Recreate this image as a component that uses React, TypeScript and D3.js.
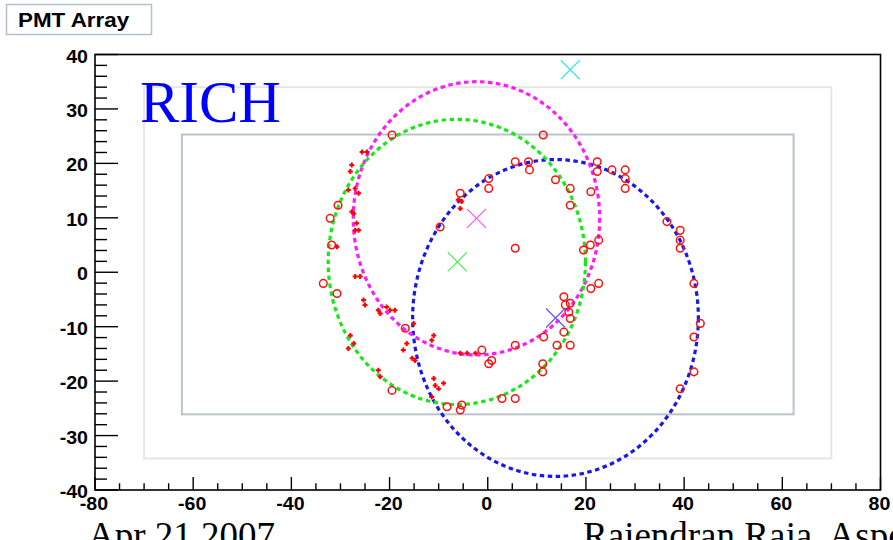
import React from "react";
import * as d3 from "d3";

// ---- data (detector units) ----
const xTickLabels = [-80, -60, -40, -20, 0, 20, 40, 60, 80];
const yTickLabels = [-40, -30, -20, -10, 0, 10, 20, 30, 40];

const ringNames = ["blue", "magenta", "green"];
const ringCX = [13.8, -2.3, -6.3];
const ringCY = [-8.4, 9.9, 1.9];
const ringR = [29.1, 25.1, 26.2];

const crossNames = ["cyan", "magenta", "green", "blue"];
const crossX = [16.8, -2.3, -6.2, 13.8];
const crossY = [37.2, 9.9, 1.9, -8.4];

const openHits: [number, number][] = [
  [-19.5, 25.2], [-30.5, 12.3], [-32.1, 9.9], [-31.8, 5.0], [-5.6, 14.5], [-9.7, 8.3],
  [0.2, 17.2], [0.2, 15.4], [11.3, 25.2], [5.6, 20.3], [8.3, 20.3], [8.5, 18.8],
  [13.8, 17.0], [16.8, 15.4], [16.8, 12.3], [22.3, 20.3], [22.3, 18.5], [25.3, 18.8],
  [28.0, 18.8], [28.0, 17.2], [28.0, 15.4], [21.0, 14.8], [5.6, 4.4], [20.9, 5.0],
  [22.6, 5.9], [19.5, 4.1], [36.5, 9.3], [39.2, 7.7], [39.2, 5.9], [39.2, 4.4],
  [-33.5, -2.05], [-30.7, -3.9], [-16.8, -10.3], [-1.2, -14.3], [0.8, -16.2], [0.2, -16.8],
  [-19.5, -21.7], [-8.3, -24.7], [-5.3, -24.4], [-5.6, -25.3], [22.6, -2.05], [21.0, -3.0],
  [15.5, -4.5], [15.8, -6.0], [16.8, -5.7], [16.5, -7.3], [16.8, -8.5], [15.5, -11.0],
  [16.8, -13.4], [14.1, -13.4], [11.4, -11.9], [5.6, -13.4], [11.2, -16.8], [11.2, -18.3],
  [5.6, -23.2], [2.9, -23.2], [42.0, -2.05], [43.3, -9.4], [42.0, -11.9], [42.0, -18.3],
  [39.2, -21.4],
];

const smallHits: [number, number][] = [
  [-25.6, 22.1], [-24.6, 22.1], [-27.7, 19.7], [-28.0, 18.5], [-28.4, 15.1], [-27.0, 15.4],
  [-26.3, 14.5], [-27.7, 11.1], [-27.3, 10.8], [-26.7, 9.0], [-26.3, 7.7], [-27.0, 7.7],
  [-30.7, 4.7], [-27.0, -0.8], [-26.0, -0.8], [-6.0, 13.3], [-5.3, 13.0], [-5.6, 11.7],
  [-25.3, -5.1], [-25.0, -6.0], [-22.3, -7.0], [-20.6, -6.4], [-19.9, -7.0], [-21.9, -7.6],
  [-18.9, -7.0], [-15.1, -9.4], [-28.0, -11.6], [-27.3, -13.1], [-28.4, -14.0], [-16.5, -13.1],
  [-17.2, -14.3], [-15.4, -15.8], [-14.8, -16.2], [-11.0, -11.6], [-11.4, -12.5], [-5.6, -14.9],
  [-4.2, -14.9], [-2.5, -14.9], [-22.3, -18.0], [-21.9, -19.2], [-11.0, -19.5], [-10.7, -20.8],
  [-9.0, -20.4], [-10.0, -21.4], [-11.4, -22.9],
];

const outerBox = [-70, 70, -34.2, 34];
const innerBox = [-62.3, 62.3, -26.1, 25.3];

const ringColors: Record<string, string> = {
  blue: "#1818e8",
  magenta: "#ff1aff",
  green: "#18e818",
};
const crossColors: Record<string, string> = {
  cyan: "#33e8f0",
  magenta: "#ff55ff",
  green: "#55e855",
  blue: "#5a5aff",
};

const W = 893;
const H = 540;
const L = 95, R = 880.5, T = 54.5, B = 490;

export default function App() {
  const x = d3.scaleLinear().domain([-80, 80]).range([L, R]);
  const y = d3.scaleLinear().domain([-40, 40]).range([B, T]);

  const yMinor = d3.range(-40, 40.01, 2);
  const yMajor = d3.range(-40, 40.01, 10);
  const xMinor = d3.range(-80, 80.01, 5);
  const xMajor = d3.range(-80, 80.01, 20);

  const labelFont = "'Liberation Sans', Arial, sans-serif";

  const box = (b: number[], stroke: string, sw: number) => (
    <rect
      x={x(b[0])}
      y={y(b[3])}
      width={x(b[1]) - x(b[0])}
      height={y(b[2]) - y(b[3])}
      fill="none"
      stroke={stroke}
      strokeWidth={sw}
    />
  );

  return (
    <svg
      width={W}
      height={H}
      style={{ position: "absolute", left: 0, top: 0, background: "#fff" }}
    >
      <rect x={0} y={0} width={W} height={H} fill="#fff" />

      {/* title box */}
      <rect x={6.5} y={4.5} width={145} height={30} fill="#fff" stroke="#b4c0cc" strokeWidth={1.5} />
      <g transform="translate(18,26.5) scale(1.12,1)">
        <text fontFamily={labelFont} fontWeight="bold" fontSize={20} fill="#000">
          PMT Array
        </text>
      </g>

      {/* detector boxes */}
      {box(outerBox, "#e6e6e6", 2)}
      {box(innerBox, "#b8c4cc", 2)}

      {/* rings */}
      {ringNames.map((n, i) => (
        <ellipse
          key={n}
          cx={x(ringCX[i])}
          cy={y(ringCY[i])}
          rx={x(ringCX[i] + ringR[i]) - x(ringCX[i])}
          ry={y(ringCY[i]) - y(ringCY[i] + ringR[i])}
          fill="none"
          stroke={ringColors[n]}
          strokeWidth={3.2}
          strokeDasharray="4.5 3.5"
        />
      ))}

      {/* hits */}
      {openHits.map((p, i) => (
        <circle
          key={"o" + i}
          cx={x(p[0])}
          cy={y(p[1])}
          r={3.8}
          fill="none"
          stroke="#ff1010"
          strokeWidth={1.5}
        />
      ))}
      {smallHits.map((p, i) => {
        const cx = x(p[0]);
        const cy = y(p[1]);
        return (
          <path
            key={"s" + i}
            d={`M${cx - 2.5},${cy}L${cx + 2.5},${cy}M${cx},${cy - 2.5}L${cx},${cy + 2.5}`}
            stroke="#ff0000"
            strokeWidth={2}
          />
        );
      })}

      {/* ring centres */}
      {crossNames.map((n, i) => {
        const cx = x(crossX[i]);
        const cy = y(crossY[i]);
        const s = 9.5;
        return (
          <path
            key={"c" + n}
            d={`M${cx - s},${cy - s}L${cx + s},${cy + s}M${cx - s},${cy + s}L${cx + s},${cy - s}`}
            stroke={crossColors[n]}
            strokeWidth={1.2}
          />
        );
      })}

      {/* RICH label */}
      <text
        x={140}
        y={122}
        fontFamily="'Liberation Serif', 'Times New Roman', serif"
        fontSize={59}
        fill="#0000ff"
      >
        RICH
      </text>

      {/* frame */}
      <rect x={L} y={T} width={R - L} height={B - T} fill="none" stroke="#000" strokeWidth={1.6} />

      {/* y ticks */}
      {yMinor.map((v) => {
        const major = yMajor.some((m) => Math.abs(m - v) < 1e-6);
        return (
          <line
            key={"yt" + v}
            x1={L}
            x2={L + (major ? 23 : 12)}
            y1={y(v)}
            y2={y(v)}
            stroke="#000"
            strokeWidth={1.4}
          />
        );
      })}
      {/* x ticks */}
      {xMinor.map((v) => {
        const major = xMajor.some((m) => Math.abs(m - v) < 1e-6);
        return (
          <line
            key={"xt" + v}
            x1={x(v)}
            x2={x(v)}
            y1={B}
            y2={B - (major ? 13 : 6.7)}
            stroke="#000"
            strokeWidth={1.4}
          />
        );
      })}

      {/* y labels */}
      {yTickLabels.map((v) => (
        <g key={"yl" + v} transform={`translate(88,${y(v) + 8}) scale(1.12,1)`}>
          <text
            textAnchor="end"
            fontFamily={labelFont}
            fontWeight="bold"
            fontSize={17.5}
            fill="#000"
          >
            {v}
          </text>
        </g>
      ))}
      {/* x labels */}
      {xTickLabels.map((v) => (
        <g key={"xl" + v} transform={`translate(${x(v) - 1},${510}) scale(1.12,1)`}>
          <text
            textAnchor="middle"
            fontFamily={labelFont}
            fontWeight="bold"
            fontSize={17.5}
            fill="#000"
          >
            {v}
          </text>
        </g>
      ))}

      {/* slide footer text (clipped at bottom, as in the reference) */}
      <text
        x={88}
        y={548}
        fontFamily="'Liberation Serif', 'Times New Roman', serif"
        fontSize={37}
        fill="#000"
      >
        Apr 21,2007
      </text>
      <text
        x={583}
        y={548}
        fontFamily="'Liberation Serif', 'Times New Roman', serif"
        fontSize={37}
        fill="#000"
      >
        Rajendran Raja, Aspen
      </text>
    </svg>
  );
}
